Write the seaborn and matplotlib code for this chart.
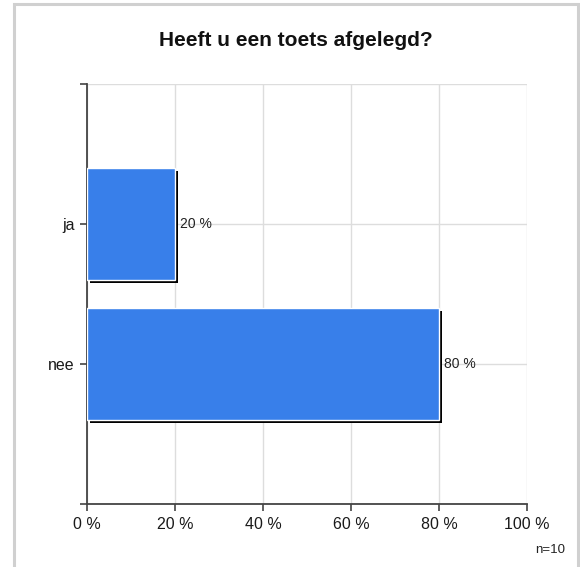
import seaborn as sns
import matplotlib.pyplot as plt
import matplotlib.patheffects as pe
from matplotlib.patches import Rectangle
import pandas as pd

# ---- Data ----
answers = ["ja", "nee"]
percent = [20, 80]
n_total = 10
x_ticks = [0, 20, 40, 60, 80, 100]

df = pd.DataFrame({"answer": answers, "percent": percent})

# ---- Visualization ----
sns.set_style("white")
plt.rcParams["font.family"] = ["Liberation Sans", "DejaVu Sans"]

fig = plt.figure(figsize=(5.8, 5.67), dpi=100)
ax = fig.add_axes([0.15, 0.111, 0.7586, 0.7407])

sns.barplot(data=df, x="percent", y="answer", orient="h", color="#387fea",
            saturation=1, width=0.8, ax=ax, zorder=3)

for bar in ax.patches:
    bar.set_path_effects([pe.SimplePatchShadow(offset=(2, -2), shadow_rgbFace="black", alpha=1),
                          pe.Normal()])

for bar, val in zip(ax.patches, percent):
    ax.text(bar.get_width() + 1.2, bar.get_y() + bar.get_height() / 2, f"{val} %",
            va="center", ha="left", fontsize=10, color="#222222", zorder=4)

ax.set_xlim(0, 100)
ax.set_ylim(2, -1)
ax.set_xticks(x_ticks)
ax.set_xticklabels([f"{t} %" for t in x_ticks], fontsize=11.5)
ax.set_yticks([-1, 0, 1, 2])
ax.set_yticklabels([""] + answers + [""], fontsize=11.5)
ax.set_xlabel("")
ax.set_ylabel("")

ax.grid(True, color="#dddddd", linewidth=1, zorder=0)
ax.set_axisbelow(True)
for s in ["top", "right"]:
    ax.spines[s].set_visible(False)
for s in ["left", "bottom"]:
    ax.spines[s].set_color("#444444")
    ax.spines[s].set_linewidth(1.3)
ax.tick_params(axis="both", bottom=True, left=True, length=5, width=1.2,
               color="#444444", labelcolor="#1a1a1a", pad=4)

fig.text(0.51, 0.928, "Heeft u een toets afgelegd?", ha="center", va="center",
         fontsize=15, fontweight="bold", color="#111111")
fig.text(0.975, 0.03, f"n={n_total}", ha="right", va="center", fontsize=9.5, color="#222222")

fig.patches.append(Rectangle((0.024, -0.05), 0.972, 1.043, transform=fig.transFigure,
                             fill=False, edgecolor="#d0d0d0", linewidth=2.2))

# ---- Save output ----
plt.savefig("out.png", dpi=100)
plt.close()
